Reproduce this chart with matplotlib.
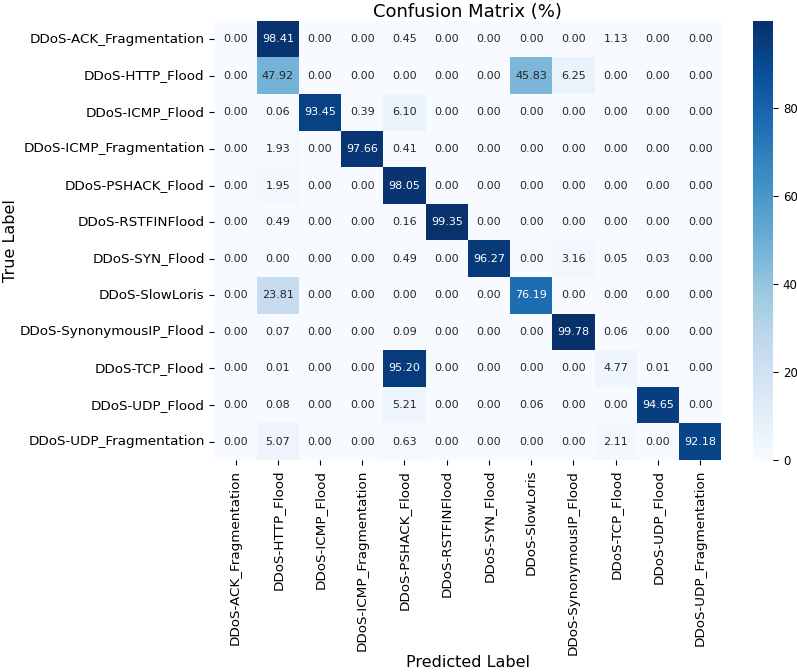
import numpy as np
import matplotlib
matplotlib.use("Agg")
import matplotlib.pyplot as plt
import seaborn as sns

# clases (mismo orden en filas y columnas)
clases = [
    "DDoS-ACK_Fragmentation", "DDoS-HTTP_Flood", "DDoS-ICMP_Flood",
    "DDoS-ICMP_Fragmentation", "DDoS-PSHACK_Flood", "DDoS-RSTFINFlood",
    "DDoS-SYN_Flood", "DDoS-SlowLoris", "DDoS-SynonymousIP_Flood",
    "DDoS-TCP_Flood", "DDoS-UDP_Flood", "DDoS-UDP_Fragmentation",
]

# matriz de confusion en % (fila = real, columna = predicho)
fila_ack_frag = [0.00, 98.41, 0.00, 0.00, 0.45, 0.00, 0.00, 0.00, 0.00, 1.13, 0.00, 0.00]
fila_http = [0.00, 47.92, 0.00, 0.00, 0.00, 0.00, 0.00, 45.83, 6.25, 0.00, 0.00, 0.00]
fila_icmp = [0.00, 0.06, 93.45, 0.39, 6.10, 0.00, 0.00, 0.00, 0.00, 0.00, 0.00, 0.00]
fila_icmp_frag = [0.00, 1.93, 0.00, 97.66, 0.41, 0.00, 0.00, 0.00, 0.00, 0.00, 0.00, 0.00]
fila_pshack = [0.00, 1.95, 0.00, 0.00, 98.05, 0.00, 0.00, 0.00, 0.00, 0.00, 0.00, 0.00]
fila_rstfin = [0.00, 0.49, 0.00, 0.00, 0.16, 99.35, 0.00, 0.00, 0.00, 0.00, 0.00, 0.00]
fila_syn = [0.00, 0.00, 0.00, 0.00, 0.49, 0.00, 96.27, 0.00, 3.16, 0.05, 0.03, 0.00]
fila_slowloris = [0.00, 23.81, 0.00, 0.00, 0.00, 0.00, 0.00, 76.19, 0.00, 0.00, 0.00, 0.00]
fila_synonymous = [0.00, 0.07, 0.00, 0.00, 0.09, 0.00, 0.00, 0.00, 99.78, 0.06, 0.00, 0.00]
fila_tcp = [0.00, 0.01, 0.00, 0.00, 95.20, 0.00, 0.00, 0.00, 0.00, 4.77, 0.01, 0.00]
fila_udp = [0.00, 0.08, 0.00, 0.00, 5.21, 0.00, 0.00, 0.06, 0.00, 0.00, 94.65, 0.00]
fila_udp_frag = [0.00, 5.07, 0.00, 0.00, 0.63, 0.00, 0.00, 0.00, 0.00, 2.11, 0.00, 92.18]

cm = np.array([
    fila_ack_frag, fila_http, fila_icmp, fila_icmp_frag, fila_pshack,
    fila_rstfin, fila_syn, fila_slowloris, fila_synonymous, fila_tcp,
    fila_udp, fila_udp_frag,
])

fig = plt.figure(figsize=(7.97, 6.72), dpi=100)
ax = fig.add_axes([0.269, 0.3155, 0.636, 0.6535])
cax = fig.add_axes([0.945, 0.3155, 0.025, 0.6535])

sns.heatmap(cm, annot=True, fmt=".2f", cmap="Blues",
            xticklabels=clases, yticklabels=clases,
            annot_kws={"fontsize": 8}, ax=ax, cbar_ax=cax)

ax.set_title("Confusion Matrix (%)", fontsize=13, pad=3)
ax.set_xlabel("Predicted Label", fontsize=11.5, labelpad=0)
ax.set_ylabel("True Label", fontsize=11.5, labelpad=1)
ax.tick_params(axis="both", labelsize=9.7)
plt.setp(ax.get_xticklabels(), rotation=90)
plt.setp(ax.get_yticklabels(), rotation=0)
cax.tick_params(labelsize=8.5)

fig.savefig("out.png", dpi=100)
